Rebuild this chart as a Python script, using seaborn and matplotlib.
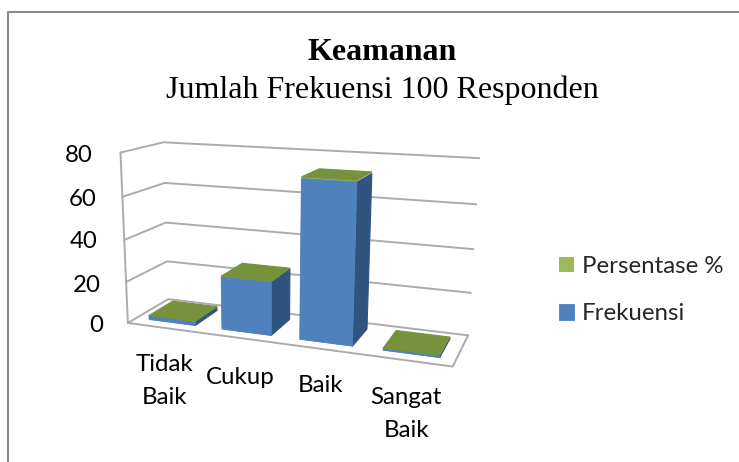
import numpy as np
import pandas as pd
import seaborn as sns
import matplotlib
matplotlib.use("Agg")
import matplotlib.pyplot as plt
from matplotlib.lines import Line2D
from matplotlib.patches import Polygon
from matplotlib.transforms import Affine2D, Transform

categories = ["Tidak\nBaik", "Cukup", "Baik", "Sangat\nBaik"]
frekuensi = [2, 25, 72, 1]
persentase = [0.02, 0.25, 0.72, 0.01]
y_ticks = [0, 20, 40, 60, 80]

BLUE = "#4F81BD"
BLUE_SIDE = "#30547F"
GREEN = "#9BBB59"
GREEN_TOP = "#76923C"
GRID = "#ABABAB"
W, H = 739, 462
FONT = 17.3

sns.set_theme(style="white")
plt.rcParams["font.family"] = ["Lato", "DejaVu Sans"]

# camera fitted on the corners of the plot box, in picture pixels
# (x fraction, value fraction, depth) -> (px, py)
corners = [
    ((0, 0, 0), (129, 323)),
    ((1, 0, 0), (453, 366)),
    ((0, 0, 1), (167, 299)),
    ((1, 0, 1), (468, 336)),
    ((0, 1, 0), (119, 153)),
    ((0, 1, 1), (165, 142)),
    ((1, 1, 1), (479, 158)),
]
rows, rhs = [], []
for (a, b, c), (u, v) in corners:
    rows.append([a, b, c, 1, 0, 0, 0, 0, -u * a, -u * b, -u * c])
    rows.append([0, 0, 0, 0, a, b, c, 1, -v * a, -v * b, -v * c])
    rhs += [u, v]
cam = np.append(np.linalg.lstsq(np.array(rows, float), np.array(rhs, float), rcond=None)[0], 1).reshape(3, 4)


def proj(x, val, d):
    x, val, d = np.broadcast_arrays(np.asarray(x, float), np.asarray(val, float), np.asarray(d, float))
    pts = np.stack([(x + 0.5) / 4, val / 80, d, np.ones_like(x)], axis=-1)
    out = pts @ cam.T
    return out[..., :2] / out[..., 2:]


# picture pixels (origin top left) to display
pix = Affine2D().scale(1, -1).translate(0, H)


class FrontFace(Transform):
    # data coords of the axes onto a plane of the box at a fixed depth
    input_dims = 2
    output_dims = 2

    def __init__(self, box_depth):
        super().__init__()
        self.box_depth = box_depth

    def transform_non_affine(self, values):
        values = np.asarray(values)
        return proj(values[:, 0], values[:, 1], self.box_depth)


DEPTH_FRONT = 0.2
DEPTH_BACK = 0.8

data = pd.DataFrame({"kategori": categories, "Frekuensi": frekuensi, "Persentase": persentase})
data["total"] = data["Frekuensi"] + data["Persentase"]

fig = plt.figure(figsize=(W / 100, H / 100), dpi=100)
ax = fig.add_axes([0, 0, 1, 1])
sns.barplot(data=data, x="kategori", y="total", color=GREEN, saturation=1, width=0.64,
            linewidth=0, label="Persentase %", ax=ax)
sns.barplot(data=data, x="kategori", y="Frekuensi", color=BLUE, saturation=1, width=0.64,
            linewidth=0, label="Frekuensi", ax=ax)
ax.set_xlim(-0.5, 3.5)
ax.set_ylim(0, 80)
ax.axis("off")

front = FrontFace(DEPTH_FRONT) + pix


def line(points, **kw):
    pts = np.array(points)
    ax.plot(pts[:, 0], pts[:, 1], transform=pix, color=GRID, lw=1.4, zorder=1, clip_on=False, **kw)


# walls and floor
for t in y_ticks:
    line([proj(-0.5, t, 0), proj(-0.5, t, 1), proj(3.5, t, 1)])
line([proj(-0.5, 0, 0), proj(-0.5, 80, 0)])
line([proj(-0.5, 0, 0), proj(3.5, 0, 0), proj(3.5, 0, 1)])

# box faces of each bar, left to right
total_bars = ax.containers[0]
freq_bars = ax.containers[1]
for i, (tb, fb) in enumerate(zip(total_bars, freq_bars)):
    z = 2 + i
    x0, x1 = fb.get_x(), fb.get_x() + fb.get_width()
    val, top = fb.get_height(), tb.get_height()
    side = [proj(x1, 0, DEPTH_FRONT), proj(x1, 0, DEPTH_BACK), proj(x1, val, DEPTH_BACK), proj(x1, val, DEPTH_FRONT)]
    ax.add_patch(Polygon(side, closed=True, transform=pix, fc=BLUE_SIDE, ec=BLUE_SIDE, lw=0.8, zorder=z, clip_on=False))
    lid = [proj(x0, top, DEPTH_FRONT), proj(x1, top, DEPTH_FRONT), proj(x1, top, DEPTH_BACK), proj(x0, top, DEPTH_BACK)]
    ax.add_patch(Polygon(lid, closed=True, transform=pix, fc=GREEN_TOP, ec=GREEN_TOP, lw=0.8, zorder=z + 0.2, clip_on=False))
    for bar in (tb, fb):
        bar.set_transform(front)
        bar.set_clip_on(False)
        bar.set_zorder(z + 0.1)
    fb.set_edgecolor(BLUE)
    fb.set_linewidth(0.6)

# axis labels
y_label_x = [103, 101, 98, 96, 93]
y_label_y = [325, 285, 242, 200, 155]
for t, px, py in zip(y_ticks, y_label_x, y_label_y):
    ax.text(px, py, str(t), transform=pix, ha="right", va="center", fontsize=FONT, color="black")

x_label_x = [164, 240, 321, 406]
x_label_y = [381, 378, 386, 414]
for lab, px, py in zip(categories, x_label_x, x_label_y):
    ax.text(px, py, lab, transform=pix, ha="center", va="center", fontsize=FONT, color="black", linespacing=1.65)

# title
ax.text(382, 52, "Keamanan", transform=pix, ha="center", va="center", fontsize=23,
        fontweight="bold", family="Liberation Serif", color="black")
ax.text(382, 90, "Jumlah Frekuensi 100 Responden", transform=pix, ha="center", va="center",
        fontsize=23, family="Liberation Serif", color="black")

# legend
handles, labels = ax.get_legend_handles_labels()
ax.legend(handles, labels, loc="center left", bbox_to_anchor=(559 / W, 1 - 290 / H),
          bbox_transform=fig.transFigure, frameon=False, fontsize=FONT, handlelength=0.62,
          handleheight=0.62, handletextpad=0.33, labelspacing=1.1, borderpad=0, borderaxespad=0)

# chart frame
fig.add_artist(Line2D([8, 8, W], [H, 12, 12], transform=pix, color="#8C8C8C", lw=1.5))

plt.savefig("out.png", dpi=100)
